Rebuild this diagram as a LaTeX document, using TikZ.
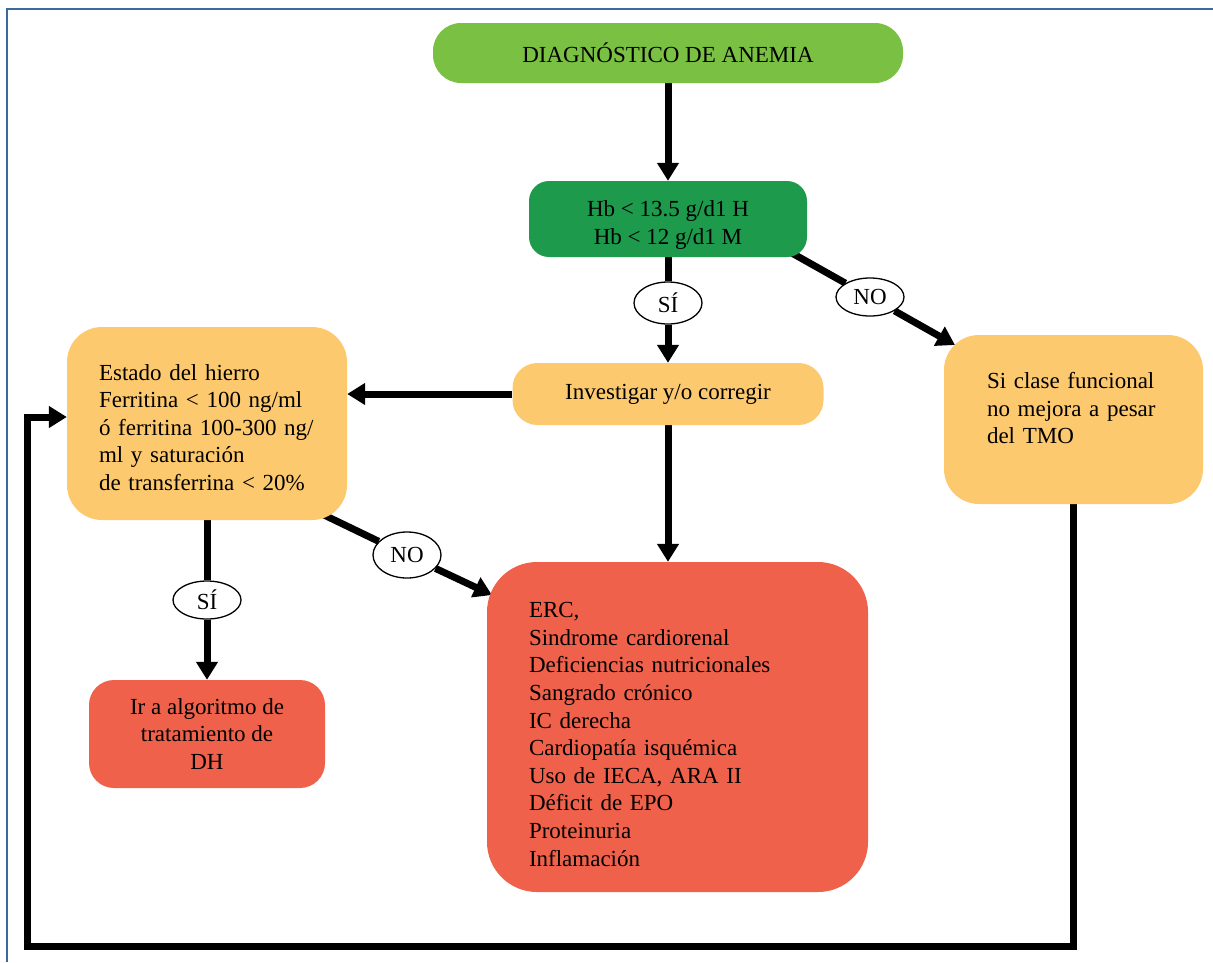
\documentclass[tikz,border=0pt]{standalone}
\usepackage{fontspec}
\setmainfont{Liberation Serif}
\usetikzlibrary{arrows.meta,shapes.geometric,backgrounds}
\definecolor{lgreen}{HTML}{7AC143}
\definecolor{dgreen}{HTML}{1D9A4B}
\definecolor{lorange}{HTML}{FDC96E}
\definecolor{lred}{HTML}{EF614A}
\definecolor{frameblue}{HTML}{3A6A9E}
\tikzset{
  box/.style={rounded corners=#1, inner sep=0pt, font=\fontsize{23}{27.6}\selectfont},
  ell/.style={ellipse, draw=black, line width=1.3pt, fill=white, inner sep=0pt, font=\fontsize{23}{27.6}\selectfont},
  ln/.style={line width=7pt},
  arr/.style={line width=7pt, -{Triangle[width=21pt,length=18pt]}},
}
\begin{document}
\begin{tikzpicture}[x=1pt,y=-1pt]
\useasboundingbox (0,0) rectangle (1213,962);
\draw[frameblue, line width=2pt] (7,962) -- (7,9) -- (1213,9);

\node[box=28pt, fill=lgreen, minimum width=470pt, minimum height=60pt] (diag) at (668,53) {DIAGNÓSTICO DE ANEMIA};
\node[box=20pt, fill=dgreen, minimum width=278pt, minimum height=76pt, align=center] (hb) at (668,219) {\rule{0pt}{28pt}Hb < 13.5 g/d1 H\\Hb < 12 g/d1 M};
\node[ell, minimum width=68pt, minimum height=42pt] (si1) at (668,303) {SÍ};
\node[box=25pt, fill=lorange, minimum width=311pt, minimum height=62pt] (inv) at (668,394) {Investigar y/o corregir};
\node[box=35pt, fill=lorange, text width=216pt, inner xsep=32pt, minimum height=193pt, align=left] (est) at (207,423.5) {\rule{0pt}{24pt}Estado del hierro\\Ferritina < 100 ng/ml\\ó ferritina 100-300 ng/\\ml y saturación\\de transferrina < 20\%};
\node[box=35pt, fill=lorange, text width=173pt, inner xsep=43pt, minimum height=169pt, align=left] (tmo) at (1073.5,419.5) {Si clase funcional\\no mejora a pesar\\del TMO\\[-13pt]\strut};
\node[ell, minimum width=68pt, minimum height=38pt] (no1) at (870,297) {NO};
\node[ell, minimum width=68pt, minimum height=38pt] (si2) at (207,600) {SÍ};
\node[ell, minimum width=68pt, minimum height=46pt] (no2) at (407,555) {NO};
\node[box=25pt, fill=lred, minimum width=236pt, minimum height=108pt, align=center] (dh) at (207,734) {Ir a algoritmo de\\tratamiento de\\DH};
\node[box=50pt, fill=lred, text width=297pt, inner xsep=42pt, minimum height=330pt, align=left] (erc) at (677.5,727) {\rule{0pt}{30pt}ERC,\\Sindrome cardiorenal\\Deficiencias nutricionales\\Sangrado crónico\\IC derecha\\Cardiopatía isquémica\\Uso de IECA, ARA II\\Déficit de EPO\\Proteinuria\\Inflamación};

\coordinate (n1a) at (790,252);
\coordinate (n1b) at (955,345);
\coordinate (n2a) at (322,514);
\coordinate (n2b) at (492,595);
\coordinate (lb) at (27,946);
\coordinate (yl) at (0,417);

\begin{pgfonlayer}{background}
\draw[arr] (diag.south) -- (hb.north);
\draw[ln] (hb) -- (si1);
\draw[arr] (si1) -- (inv.north);
\draw[arr] (inv.west) -- (inv.west -| est.east);
\draw[arr] (inv.south) -- (inv.south |- erc.north);
\draw[ln] (n1a) -- (no1);
\draw[arr] (no1) -- (n1b);
\draw[ln] (n2a) -- (no2);
\draw[arr] (no2) -- (n2b);
\draw[ln] (est) -- (si2);
\draw[arr] (si2) -- (dh.north);
\draw[arr] (tmo.south) |- (lb) |- (est.west |- yl);
\end{pgfonlayer}
\end{tikzpicture}
\end{document}
